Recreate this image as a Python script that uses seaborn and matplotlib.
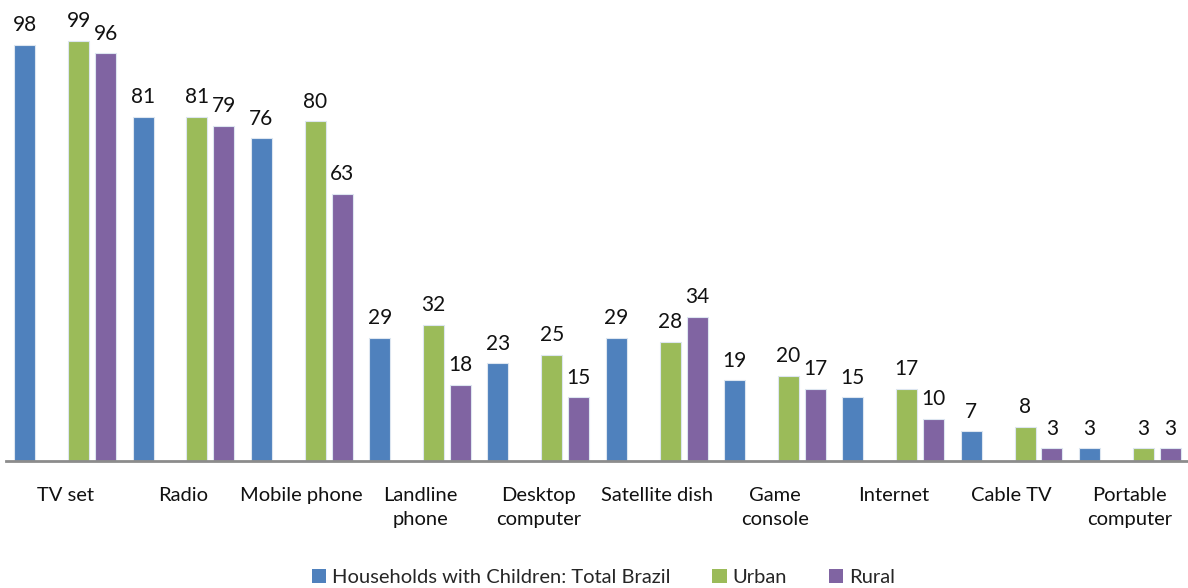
import matplotlib
matplotlib.use("Agg")
import matplotlib.pyplot as plt
from matplotlib.patches import Patch
from matplotlib.ticker import FixedLocator
import numpy as np
import pandas as pd
import seaborn as sns

categories = ["TV set", "Radio", "Mobile phone", "Landline\nphone", "Desktop\ncomputer",
              "Satellite dish", "Game\nconsole", "Internet", "Cable TV", "Portable\ncomputer"]
total_brazil = [98, 81, 76, 29, 23, 29, 19, 15, 7, 3]
urban = [99, 81, 80, 32, 25, 28, 20, 17, 8, 3]
rural = [96, 79, 63, 18, 15, 34, 17, 10, 3, 3]

series_names = ["Households with Children: Total Brazil", "Urban", "Rural"]
colors = {"Households with Children: Total Brazil": "#4F81BD", "(blank)": "#FFFFFF",
          "Urban": "#9BBB59", "Rural": "#8064A2"}
hue_order = ["Households with Children: Total Brazil", "(blank)", "Urban", "Rural"]

rows = []
for name, vals in zip(series_names, [total_brazil, urban, rural]):
    for c, v in zip(categories, vals):
        rows.append({"category": c, "series": name, "value": v})
df = pd.DataFrame(rows)

sns.set_theme(style="white")
plt.rcParams["font.family"] = ["Lato", "DejaVu Sans"]

fig = plt.figure(figsize=(11.88, 5.88), dpi=100)
ax = fig.add_axes([6 / 1188, 127 / 588, 1183 / 1188, 461 / 588])

sns.barplot(data=df, x="category", y="value", hue="series", order=categories,
            hue_order=hue_order, palette=colors, saturation=1, width=0.91, gap=0.22,
            edgecolor="#dde6f0", linewidth=0.8, errorbar=None, legend=False, ax=ax)

for cont in ax.containers:
    vals = [b.get_height() for b in cont]
    if len(vals) and np.all(np.isfinite(vals)) and cont.get_label() != "(blank)":
        ax.bar_label(cont, labels=[f"{v:.0f}" for v in vals], padding=7,
                     fontsize=15, color="#111111")

ax.set_xlim(-0.5, 9.5)
ax.set_ylim(0, 108.6)
ax.set_xlabel("")
ax.set_ylabel("")
ax.set_yticks([])
for s in ["top", "right", "left"]:
    ax.spines[s].set_visible(False)
ax.spines["bottom"].set_color("#8c8c8c")
ax.spines["bottom"].set_linewidth(2)

ax.xaxis.set_minor_locator(FixedLocator(np.arange(-0.5, 10, 1.0)))
ax.tick_params(axis="x", which="minor", length=8, width=1.5, color="#8c8c8c", direction="out")
ax.tick_params(axis="x", which="major", length=0, pad=19, labelsize=14.5, labelcolor="#111111")
ax.set_xticks(range(len(categories)))
ax.set_xticklabels(categories, linespacing=1.5)

handles = [Patch(facecolor=colors[n], edgecolor="none") for n in series_names]
fig.legend(handles, series_names, loc="lower center", bbox_to_anchor=(0.508, -0.027),
           ncol=3, frameon=False, fontsize=14.5, handlelength=0.7, handleheight=0.7,
           handletextpad=0.3, columnspacing=2.1)

fig.savefig("out.png", dpi=100)
